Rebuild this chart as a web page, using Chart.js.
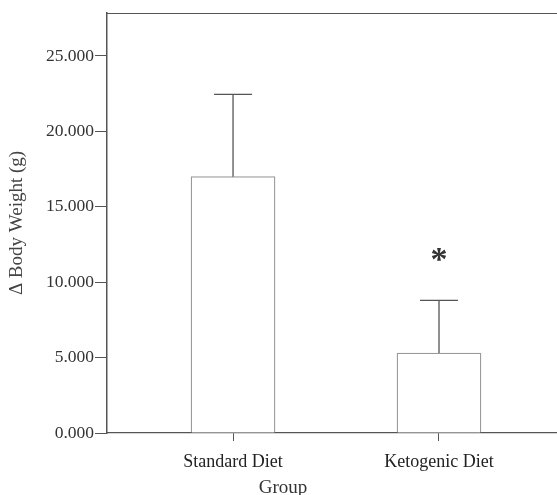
<!DOCTYPE html>
<html><head><meta charset="utf-8">
<script src="https://cdn.jsdelivr.net/npm/chart.js@4"></script>
<style>html,body{margin:0;padding:0;background:#fff}#wrap{width:557px;height:495px}</style>
</head><body><div id="wrap"><canvas id="c" width="557" height="495"></canvas></div>
<script>
const categories = ['Standard Diet', 'Ketogenic Diet'];
const means = [17.0, 5.3];
const errorUpper = [22.45, 8.8];
const significance = ['', '*'];
const yTicks = [0, 5, 10, 15, 20, 25];
const xTitle = 'Group';
const yTitle = '\u0394 Body Weight (g)';

const serif = '"Liberation Serif", "DejaVu Serif", serif';
const axisColor = '#555';

const extras = {
  id: 'extras',
  afterDatasetsDraw(chart) {
    const ctx = chart.ctx, x = chart.scales.x, y = chart.scales.y, a = chart.chartArea;
    ctx.save();
    // top frame line
    ctx.strokeStyle = axisColor; ctx.lineWidth = 1.2;
    ctx.beginPath(); ctx.moveTo(a.left, a.top + 0.5); ctx.lineTo(a.right, a.top + 0.5); ctx.stroke();
    // error bars (upper only)
    ctx.strokeStyle = '#555'; ctx.lineWidth = 1.3;
    categories.forEach((c, i) => {
      const px = x.getPixelForValue(i);
      const y0 = y.getPixelForValue(means[i]);
      const y1 = y.getPixelForValue(errorUpper[i]);
      ctx.beginPath();
      ctx.moveTo(px, y0); ctx.lineTo(px, y1);
      ctx.moveTo(px - 19, y1); ctx.lineTo(px + 19, y1);
      ctx.stroke();
      if (significance[i]) {
        ctx.fillStyle = '#333';
        ctx.font = 'bold 34px ' + serif;
        ctx.textAlign = 'center'; ctx.textBaseline = 'middle';
        ctx.fillText(significance[i], px, y.getPixelForValue(errorUpper[i] + 2.55) - 1);
      }
    });
    // x title
    ctx.fillStyle = '#333';
    ctx.font = '19px ' + serif;
    ctx.textAlign = 'center'; ctx.textBaseline = 'middle';
    ctx.fillText(xTitle, 283, 488);
    ctx.restore();
  }
};

new Chart(document.getElementById('c'), {
  type: 'bar',
  data: {
    datasets: [{
      data: categories.map((c, i) => ({ x: i, y: means[i] })),
      backgroundColor: '#ffffff',
      borderColor: '#999',
      borderWidth: 1.3,
      barThickness: 84
    }]
  },
  options: {
    responsive: false,
    animation: false,
    layout: { padding: { top: 13, left: 0, right: 0, bottom: 0 } },
    plugins: { legend: { display: false }, tooltip: { enabled: false } },
    scales: {
      x: {
        type: 'linear',
        offset: false,
        min: -0.612, max: 1.573,
        afterBuildTicks: s => { s.ticks = categories.map((c, i) => ({ value: i })); },
        afterFit: s => { s.height = 62; },
        ticks: {
          callback: v => categories[v] ?? '',
          color: '#222', font: { family: serif, size: 18 }, padding: 10, maxRotation: 0
        },
        grid: { offset: false, drawOnChartArea: false, drawTicks: true, tickLength: 8, color: axisColor, lineWidth: 1 },
        border: { display: true, color: axisColor, width: 1.3 }
      },
      y: {
        min: 0, max: 27.85,
        afterBuildTicks: s => { s.ticks = yTicks.map(v => ({ value: v })); },
        afterFit: s => { s.width = 107; },
        ticks: {
          callback: v => Number(v).toFixed(3),
          color: '#333', font: { family: serif, size: 17.5 }, padding: 1
        },
        grid: { drawOnChartArea: false, drawTicks: true, tickLength: 12, color: axisColor, lineWidth: 1 },
        border: { display: true, color: axisColor, width: 1.5 },
        title: { display: true, text: yTitle, color: '#444', font: { family: serif, size: 19 }, padding: { top: 6, bottom: 0 } }
      }
    }
  },
  plugins: [extras]
});
</script>
</body></html>
